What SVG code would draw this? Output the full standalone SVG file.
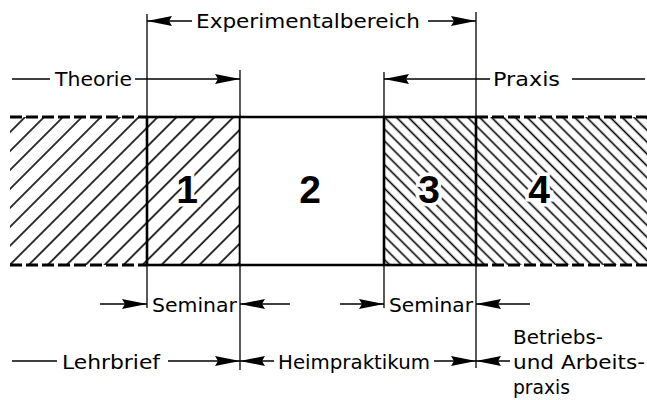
<svg xmlns="http://www.w3.org/2000/svg" width="647" height="400" viewBox="0 0 647 400">
  <defs>
    <style>
      .lbl { font-family: "DejaVu Sans", "Liberation Sans", sans-serif; font-size: 20px; fill: #000; }
      .num { font-family: "Liberation Sans", "DejaVu Sans", sans-serif; font-weight: bold; font-size: 39px; fill: #000; stroke: #fff; stroke-width: 7px; paint-order: stroke fill; text-anchor: middle; }
      .thin { stroke: #000; stroke-width: 1.3; fill: none; }
      .dim { stroke: #000; stroke-width: 1.3; fill: none; marker-end: url(#ah); }
      .thick { stroke: #000; stroke-width: 2.6; fill: none; }
      .dash { stroke: #000; stroke-width: 3; fill: none; stroke-dasharray: 12 4; }
    </style>
    <marker id="ah" markerUnits="userSpaceOnUse" markerWidth="26" markerHeight="11" refX="25" refY="5.5" orient="auto">
      <path d="M0,0.5 L25,5.5 L0,10.5 L3,5.5 Z" fill="#000"/>
    </marker>
    <pattern id="hatchA" patternUnits="userSpaceOnUse" width="13.4" height="20" patternTransform="rotate(45)">
      <line x1="6.7" y1="0" x2="6.7" y2="20" stroke="#000" stroke-width="1.6"/>
    </pattern>
    <pattern id="hatchB" patternUnits="userSpaceOnUse" width="8.4" height="20" patternTransform="rotate(-45)">
      <line x1="4.2" y1="0" x2="4.2" y2="20" stroke="#000" stroke-width="1.6"/>
    </pattern>
  </defs>
  <rect width="647" height="400" fill="#fff"/>

  <g id="theorie-region">
    <rect x="10" y="117" width="137" height="148" fill="url(#hatchA)"/>
    <line class="dash" x1="10" y1="117" x2="147" y2="117"/>
    <line class="dash" x1="10" y1="265" x2="147" y2="265"/>
  </g>

  <g id="box1">
    <rect x="147" y="117" width="93" height="148" fill="url(#hatchA)"/>
    <rect class="thick" x="147" y="117" width="93" height="148"/>
    <text class="num" x="187" y="203">1</text>
  </g>

  <g id="box2">
    <rect x="240" y="117" width="144" height="148" fill="#fff"/>
    <line class="thick" x1="240" y1="117" x2="384" y2="117"/>
    <line class="thick" x1="240" y1="265" x2="384" y2="265"/>
    <text class="num" x="310" y="203">2</text>
  </g>

  <g id="box3">
    <rect x="384" y="117" width="92" height="148" fill="url(#hatchB)"/>
    <rect class="thick" x="384" y="117" width="92" height="148"/>
    <text class="num" x="429" y="203">3</text>
  </g>

  <g id="praxis-region">
    <rect x="476" y="117" width="171" height="148" fill="url(#hatchB)"/>
    <line class="dash" x1="476" y1="117" x2="647" y2="117"/>
    <line class="dash" x1="476" y1="265" x2="647" y2="265"/>
    <text class="num" x="539" y="203">4</text>
  </g>

  <g id="connectors">
    <line class="thin" x1="147" y1="14" x2="147" y2="308"/>
    <line class="thin" x1="240" y1="70" x2="240" y2="370"/>
    <line class="thin" x1="384" y1="72" x2="384" y2="308"/>
    <line class="thin" x1="476" y1="12" x2="476" y2="368"/>

    <line class="dim" x1="192" y1="21" x2="147" y2="21"/>
    <line class="dim" x1="428" y1="21" x2="476" y2="21"/>

    <line class="thin" x1="12" y1="79" x2="50" y2="79"/>
    <line class="dim" x1="135" y1="79" x2="240" y2="79"/>
    <line class="dim" x1="490" y1="79" x2="384" y2="79"/>
    <line class="thin" x1="572" y1="79" x2="645" y2="79"/>

    <line class="dim" x1="100" y1="304" x2="147" y2="304"/>
    <line class="dim" x1="290" y1="304" x2="240" y2="304"/>
    <line class="dim" x1="340" y1="304" x2="384" y2="304"/>
    <line class="dim" x1="530" y1="304" x2="476" y2="304"/>

    <line class="thin" x1="12" y1="361" x2="57" y2="361"/>
    <line class="dim" x1="168" y1="361" x2="240" y2="361"/>
    <line class="dim" x1="274" y1="361" x2="240" y2="361"/>
    <line class="dim" x1="434" y1="361" x2="476" y2="361"/>
    <line class="dim" x1="510" y1="361" x2="476" y2="361"/>
  </g>

  <g id="labels">
    <text class="lbl" x="196" y="28" textLength="224" lengthAdjust="spacingAndGlyphs">Experimentalbereich</text>
    <text class="lbl" x="55" y="86" textLength="77" lengthAdjust="spacingAndGlyphs">Theorie</text>
    <text class="lbl" x="493" y="86" textLength="67" lengthAdjust="spacingAndGlyphs">Praxis</text>
    <text class="lbl" x="152" y="312" textLength="85" lengthAdjust="spacingAndGlyphs">Seminar</text>
    <text class="lbl" x="389" y="312" textLength="84" lengthAdjust="spacingAndGlyphs">Seminar</text>
    <text class="lbl" x="62" y="369" textLength="98" lengthAdjust="spacingAndGlyphs">Lehrbrief</text>
    <text class="lbl" x="278" y="369" textLength="152" lengthAdjust="spacingAndGlyphs">Heimpraktikum</text>
    <text class="lbl" x="513" y="344" textLength="90" lengthAdjust="spacingAndGlyphs">Betriebs-</text>
    <text class="lbl" x="513" y="369" textLength="132" lengthAdjust="spacingAndGlyphs">und Arbeits-</text>
    <text class="lbl" x="513" y="394" textLength="57" lengthAdjust="spacingAndGlyphs">praxis</text>
  </g>
</svg>
